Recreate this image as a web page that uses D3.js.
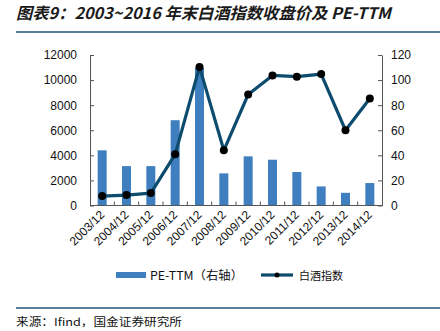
<!DOCTYPE html>
<html>
<head>
<meta charset="utf-8">
<script src="https://cdn.jsdelivr.net/npm/d3@7"></script>
<style>
  html, body { margin: 0; padding: 0; background: #fff; }
  svg { display: block; }
</style>
</head>
<body>
<svg id="chart" width="440" height="331"></svg>
<script>
// Year-end dates
const categories = ["2003/12","2004/12","2005/12","2006/12","2007/12","2008/12","2009/12","2010/12","2011/12","2012/12","2013/12","2014/12"];
// Baijiu index closing level (left axis)
const indexClose = [750, 830, 990, 4080, 11050, 4400, 8850, 10370, 10270, 10480, 6000, 8530];
// PE-TTM (right axis)
const peTTM = [44, 31.4, 31.4, 68, 110, 25.6, 39.2, 36.5, 26.7, 15.2, 10.1, 17.9];
const leftTicks = [0, 2000, 4000, 6000, 8000, 10000, 12000];
const rightTicks = [0, 20, 40, 60, 80, 100, 120];

const svg = d3.select("#chart");
const m = { left: 90, right: 382, top: 55, bottom: 205.5 };
const latin = "'Liberation Sans', Arial, sans-serif";
const cjk = "'Noto Sans CJK SC', 'Liberation Sans', sans-serif";

// Title
svg.append("text")
  .attr("x", 16).attr("y", 19)
  .attr("font-family", cjk)
  .attr("font-size", 16)
  .attr("font-weight", "bold")
  .attr("font-style", "italic")
  .attr("fill", "#1a1a1a")
  .attr("textLength", 375)
  .attr("lengthAdjust", "spacingAndGlyphs")
  .text("图表9：2003~2016 年末白酒指数收盘价及 PE-TTM");

svg.append("line").attr("x1", 16).attr("x2", 440).attr("y1", 32).attr("y2", 32)
  .attr("stroke", "#1f5377").attr("stroke-width", 1.3);

const x = d3.scaleBand().domain(categories).range([m.left, m.right]).paddingInner(0.63).paddingOuter(0.315);
const xEdge = d3.scaleLinear().domain([0, categories.length]).range([m.left, m.right]);
const yL = d3.scaleLinear().domain([0, 12000]).range([m.bottom, m.top]);
const yR = d3.scaleLinear().domain([0, 120]).range([m.bottom, m.top]);

// Bars: PE-TTM
svg.append("g").selectAll("rect").data(peTTM).join("rect")
  .attr("x", (d, i) => x(categories[i]))
  .attr("width", x.bandwidth())
  .attr("y", d => yR(d))
  .attr("height", d => yR(0) - yR(d))
  .attr("fill", "#3f7fbf");

// Axes
const axisColor = "#555";
const gL = svg.append("g").attr("transform", `translate(${m.left},0)`)
  .call(d3.axisLeft(yL).tickValues(leftTicks).tickFormat(d3.format("d"))
    .tickSizeInner(-4).tickSizeOuter(0).tickPadding(13));
const gR = svg.append("g").attr("transform", `translate(${m.right},0)`)
  .call(d3.axisRight(yR).tickValues(rightTicks).tickFormat(d3.format("d"))
    .tickSizeInner(-4).tickSizeOuter(0).tickPadding(9));
[gL, gR].forEach(g => {
  g.select(".domain").attr("stroke", axisColor);
  g.selectAll(".tick line").attr("stroke", axisColor);
  g.selectAll("text").attr("font-family", latin).attr("font-size", 12).attr("fill", "#111");
});

// X axis baseline with inward ticks at category boundaries
const gX = svg.append("g");
gX.append("line").attr("x1", m.left).attr("x2", m.right).attr("y1", m.bottom).attr("y2", m.bottom)
  .attr("stroke", axisColor);
gX.selectAll("line.t").data(d3.range(1, categories.length)).join("line").attr("class", "t")
  .attr("x1", d => xEdge(d)).attr("x2", d => xEdge(d))
  .attr("y1", m.bottom).attr("y2", m.bottom - 4).attr("stroke", axisColor);
gX.selectAll("text").data(categories).join("text")
  .attr("transform", d => `translate(${x(d) + x.bandwidth() / 2 + 3},${m.bottom + 10}) rotate(-45)`)
  .attr("text-anchor", "end")
  .attr("font-family", latin).attr("font-size", 12).attr("fill", "#111")
  .text(d => d);

// Line: baijiu index
const cx = (i) => x(categories[i]) + x.bandwidth() / 2;
svg.append("path").datum(indexClose)
  .attr("d", d3.line().x((d, i) => cx(i)).y(d => yL(d)))
  .attr("fill", "none").attr("stroke", "#0d4c6e").attr("stroke-width", 3.2)
  .attr("stroke-linejoin", "round");
svg.append("g").selectAll("circle").data(indexClose).join("circle")
  .attr("cx", (d, i) => cx(i)).attr("cy", d => yL(d)).attr("r", 4)
  .attr("fill", "#000");

// Legend
const lg = svg.append("g");
lg.append("rect").attr("x", 116).attr("y", 272).attr("width", 30).attr("height", 6).attr("fill", "#3f7fbf");
lg.append("text").attr("x", 150).attr("y", 279.5)
  .attr("font-family", cjk).attr("font-size", 12).attr("fill", "#111")
  .attr("textLength", 93).attr("lengthAdjust", "spacingAndGlyphs")
  .text("PE-TTM（右轴）");
lg.append("line").attr("x1", 261).attr("x2", 293).attr("y1", 275).attr("y2", 275)
  .attr("stroke", "#0d4c6e").attr("stroke-width", 3.2);
lg.append("circle").attr("cx", 277).attr("cy", 275).attr("r", 2.5).attr("fill", "#000");
lg.append("text").attr("x", 299).attr("y", 279.5)
  .attr("font-family", cjk).attr("font-size", 11).attr("fill", "#111")
  .attr("textLength", 44).attr("lengthAdjust", "spacingAndGlyphs")
  .text("白酒指数");

// Footer
svg.append("line").attr("x1", 16).attr("x2", 440).attr("y1", 308).attr("y2", 308)
  .attr("stroke", "#1f5377").attr("stroke-width", 1.3);
svg.append("text").attr("x", 16).attr("y", 326)
  .attr("font-family", cjk).attr("font-size", 11).attr("fill", "#111")
  .attr("textLength", 166).attr("lengthAdjust", "spacingAndGlyphs")
  .text("来源：Ifind，国金证券研究所");
</script>
</body>
</html>
